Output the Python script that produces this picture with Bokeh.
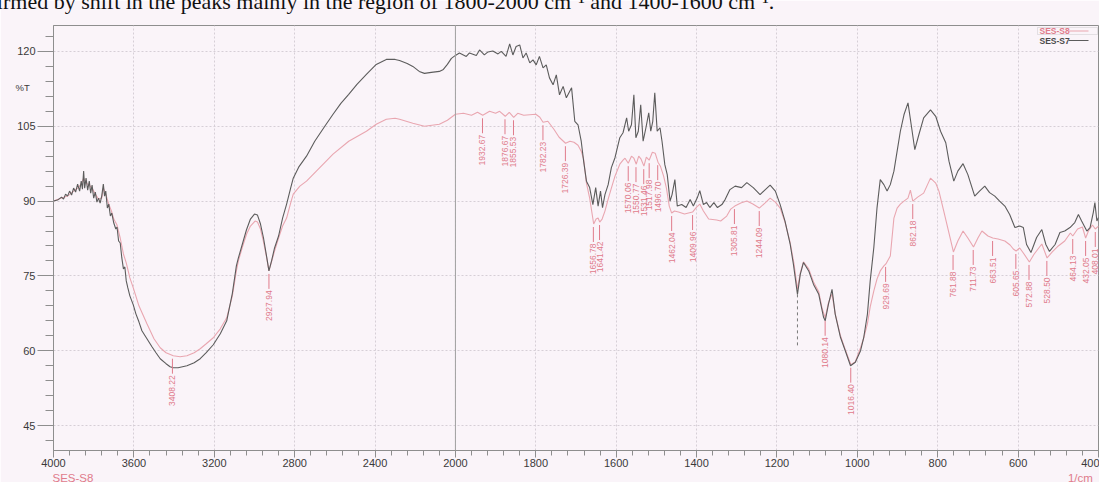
import math
from bokeh.plotting import figure
from bokeh.models import (Range1d, FixedTicker, Label, BoxAnnotation, Span,
                          ColumnDataSource)
from bokeh.core.properties import value
from bokeh.embed import file_html
from bokeh.resources import INLINE

# ---------------- spectra (wavenumber in 1/cm, transmittance in %T) ----------------
s7_wn = [4000, 3980, 3960, 3950, 3940, 3930, 3920, 3910, 3900, 3890, 3880, 3870, 3862, 3856,
         3850, 3845, 3838, 3830, 3822, 3815, 3808, 3800, 3792, 3784, 3776, 3768, 3760, 3752,
         3746, 3740, 3732, 3725, 3717, 3710, 3700, 3690, 3684, 3676, 3668, 3660, 3652, 3645,
         3638, 3630, 3620, 3603, 3590, 3575, 3560, 3535, 3510, 3490, 3469, 3440, 3420, 3404,
         3380, 3336, 3300, 3270, 3240, 3205, 3170, 3138, 3110, 3090, 3080, 3060, 3040, 3020,
         3000, 2985, 2970, 2955, 2940, 2928, 2915, 2900, 2880, 2860, 2840, 2820, 2807, 2780,
         2741, 2700, 2650, 2609, 2570, 2531, 2490, 2443, 2394, 2344, 2300, 2278, 2240, 2212,
         2180, 2154, 2120, 2080, 2060, 2040, 2020, 2000, 1990, 1973, 1965, 1948, 1940, 1928,
         1919, 1907, 1894, 1886, 1874, 1865, 1857, 1849, 1840, 1832, 1824, 1815, 1807, 1799,
         1791, 1782, 1774, 1766, 1757, 1749, 1741, 1732, 1724, 1711, 1703, 1695, 1687, 1681,
         1674, 1666, 1658, 1651, 1645, 1639, 1634, 1628, 1620, 1612, 1603, 1591, 1583, 1574,
         1569, 1562, 1556, 1551, 1545, 1539, 1533, 1526, 1519, 1514, 1509, 1504, 1498, 1491,
         1486, 1479, 1473, 1466, 1461, 1454, 1448, 1437, 1426, 1416, 1408, 1398, 1392, 1383,
         1375, 1367, 1357, 1348, 1337, 1329, 1317, 1304, 1288, 1275, 1259, 1242, 1229, 1217,
         1204, 1192, 1180, 1167, 1159, 1149, 1142, 1134, 1121, 1109, 1096, 1084, 1080, 1072,
         1063, 1055, 1042, 1030, 1017, 1005, 992, 984, 975, 968, 959, 951, 943, 934, 926, 918,
         909, 901, 893, 884, 874, 866, 857, 847, 835, 818, 805, 793, 780, 772, 760, 750, 737,
         725, 708, 696, 683, 671, 658, 646, 633, 621, 608, 596, 587, 579, 568, 554, 541, 531,
         522, 508, 496, 484, 471, 459, 450, 442, 429, 421, 413, 409, 404, 400]
s7_t = [90.0, 90.2, 90.8, 90.4, 91.4, 91.0, 92.0, 91.2, 92.6, 91.8, 93.4, 92.0, 94.0, 92.4,
        96.0, 92.6, 94.6, 92.2, 94.0, 91.6, 93.2, 90.6, 91.8, 89.8, 90.6, 89.6, 91.0, 93.4,
        91.0, 92.0, 88.6, 89.4, 87.0, 87.6, 85.6, 84.4, 84.8, 82.0, 81.6, 78.6, 76.4, 76.8,
        74.0, 72.6, 71.0, 69.2, 67.4, 65.8, 64.0, 62.4, 60.8, 59.6, 58.4, 57.4, 56.8, 56.6,
        56.6, 57.0, 57.6, 58.4, 59.6, 61.2, 63.4, 66.0, 71.5, 77.0, 78.6, 81.4, 84.2, 86.4,
        87.4, 87.2, 85.4, 82.6, 79.0, 76.0, 78.0, 80.6, 83.0, 86.6, 89.4, 92.6, 94.6, 96.8,
        99.0, 102.0, 105.0, 107.4, 109.6, 111.4, 113.4, 115.4, 117.4, 118.4, 118.4, 118.2, 117.6, 117.0,
        116.0, 115.6, 115.8, 116.0, 116.4, 117.4, 118.6, 119.2, 119.7, 119.0, 119.7, 119.2, 120.3, 119.3,
        119.9, 120.1, 119.5, 120.0, 119.0, 121.5, 119.3, 121.0, 121.3, 118.7, 119.7, 117.7, 118.3, 117.3,
        119.0, 116.7, 117.3, 114.7, 113.3, 115.3, 111.3, 113.0, 110.7, 112.7, 106.0, 105.3, 102.0, 98.0,
        94.0, 92.7, 89.3, 92.7, 89.0, 92.0, 88.7, 91.3, 93.3, 96.7, 98.7, 102.7, 103.7, 106.7,
        104.0, 105.3, 111.3, 102.7, 104.0, 109.3, 102.0, 104.7, 107.7, 104.0, 106.0, 111.7, 104.0, 104.7,
        102.0, 97.3, 95.3, 90.0, 91.3, 94.3, 89.0, 89.3, 88.7, 90.3, 89.0, 90.7, 92.1, 89.3,
        89.7, 88.7, 89.7, 88.7, 89.3, 90.3, 92.3, 93.0, 92.7, 93.7, 92.7, 91.3, 92.3, 93.2,
        92.0, 89.3, 86.0, 81.3, 77.3, 71.3, 75.3, 77.7, 76.0, 73.3, 71.3, 66.7, 66.0, 69.3,
        72.3, 67.3, 62.7, 60.0, 57.0, 57.7, 60.0, 62.7, 67.3, 74.0, 80.7, 88.7, 94.3, 93.3, 92.0, 93.3,
        96.0, 100.0, 104.0, 107.3, 109.7, 105.3, 100.3, 103.3, 106.7, 108.3, 107.0, 104.0, 101.7, 98.0, 94.0, 96.0, 97.5,
        95.3, 91.0, 92.0, 93.0, 91.7, 91.0, 90.0, 89.0, 87.3, 84.7, 85.0, 84.7, 81.3, 79.7, 82.7, 84.3, 81.3,
        79.9, 81.3, 83.7, 84.0, 84.7, 85.7, 87.3, 86.0, 84.0, 84.7, 87.7, 89.7, 86.0, 86.7]

s8_wn = [4000, 3960, 3930, 3900, 3880, 3862, 3850, 3838, 3822, 3808, 3792, 3776, 3760, 3752,
         3740, 3725, 3710, 3700, 3684, 3668, 3652, 3638, 3620, 3603, 3575, 3535, 3500, 3469,
         3440, 3404, 3370, 3336, 3300, 3270, 3240, 3205, 3170, 3138, 3110, 3090, 3080, 3060,
         3039, 3020, 2997, 2985, 2970, 2956, 2940, 2928, 2915, 2900, 2880, 2860, 2840, 2820,
         2807, 2774, 2741, 2692, 2609, 2531, 2443, 2394, 2344, 2300, 2278, 2212, 2154, 2080,
         2040, 2000, 1980, 1960, 1945, 1932, 1915, 1900, 1890, 1876, 1866, 1855, 1845, 1830,
         1800, 1790, 1782, 1770, 1755, 1742, 1726, 1715, 1705, 1695, 1687, 1681, 1674, 1666,
         1656, 1650, 1645, 1641, 1635, 1628, 1620, 1612, 1603, 1591, 1583, 1578, 1570, 1562,
         1556, 1550, 1544, 1538, 1531, 1525, 1518, 1510, 1503, 1496, 1490, 1482, 1475, 1468,
         1462, 1455, 1445, 1430, 1420, 1410, 1400, 1392, 1383, 1370, 1350, 1340, 1325, 1315,
         1305, 1290, 1275, 1260, 1244, 1230, 1217, 1204, 1192, 1180, 1167, 1158, 1149, 1142,
         1134, 1121, 1109, 1096, 1088, 1080, 1072, 1063, 1055, 1042, 1030, 1016, 1005, 992,
         984, 975, 968, 959, 951, 943, 934, 929, 918, 909, 901, 893, 884, 874, 868, 862,
         850, 835, 818, 805, 797, 785, 772, 761, 750, 737, 725, 711, 700, 690, 675, 663,
         650, 633, 620, 612, 605, 596, 587, 572, 560, 541, 528, 515, 500, 484, 470, 464,
         452, 440, 432, 425, 415, 408, 400]
s8_t = [90.0, 90.6, 91.0, 92.0, 92.6, 93.4, 94.6, 93.6, 93.2, 92.6, 91.4, 90.4, 90.6, 92.6,
        91.4, 89.4, 87.8, 86.4, 85.2, 82.6, 79.4, 77.6, 74.6, 72.6, 69.0, 65.4, 62.4, 60.6,
        59.6, 59.0, 58.8, 59.0, 59.6, 60.4, 61.4, 62.6, 64.4, 66.6, 71.0, 76.0, 78.0, 80.8,
        83.4, 85.0, 86.0, 85.8, 84.4, 82.0, 78.8, 76.0, 77.8, 80.0, 82.6, 85.0, 86.6, 89.6,
        91.4, 93.0, 94.0, 96.0, 99.4, 102.0, 104.0, 105.4, 106.4, 106.6, 106.4, 105.6, 105.0, 105.4,
        106.2, 107.4, 107.6, 107.2, 107.8, 107.2, 108.0, 107.6, 108.0, 107.0, 107.8, 106.8, 107.6, 107.2,
        107.4, 106.8, 105.8, 106.0, 104.4, 102.8, 101.6, 102.0, 101.8, 101.2, 100.0, 98.4, 93.6, 90.6,
        85.4, 86.4, 86.6, 85.8, 86.4, 88.0, 90.4, 92.6, 95.0, 97.4, 98.2, 98.6, 97.6, 99.0,
        98.6, 97.4, 99.0, 98.4, 97.0, 98.8, 98.2, 99.8, 99.6, 97.8, 97.0, 95.0, 92.6, 89.0,
        87.6, 88.0, 87.8, 87.4, 87.6, 87.8, 88.8, 89.4, 88.0, 86.4, 86.2, 86.0, 87.0, 88.4,
        89.0, 89.6, 90.0, 89.4, 88.6, 89.6, 90.6, 89.8, 88.6, 85.8, 81.6, 77.6, 72.4, 75.6,
        77.8, 76.4, 73.8, 71.8, 68.6, 66.6, 69.6, 71.4, 67.4, 63.0, 60.2, 57.2, 57.8, 60.6,
        62.6, 65.4, 68.8, 72.0, 74.4, 76.0, 77.0, 77.4, 79.0, 86.6, 88.6, 89.4, 90.0, 90.6, 92.2, 90.0,
        90.8, 91.6, 94.6, 93.6, 92.0, 88.0, 83.6, 79.8, 82.0, 84.0, 82.6, 80.8, 82.6, 84.0, 83.0, 82.6,
        82.4, 82.0, 81.2, 80.4, 80.0, 80.6, 79.6, 77.8, 79.4, 81.4, 78.6, 79.8, 81.0, 82.0, 83.6, 83.0,
        84.4, 84.8, 82.6, 84.0, 85.2, 84.4, 85.0]

# peak picks on SES-S8: wavenumber and %T where the marker starts
peak_wn = [3408.22, 2927.94, 1932.67, 1876.67, 1855.53, 1782.23, 1726.39, 1656.78, 1641.42,
           1570.06, 1550.77, 1531.46, 1517.98, 1496.70, 1462.04, 1409.96, 1305.81, 1244.09,
           1080.14, 1016.40, 929.69, 862.18, 761.88, 711.73, 663.51, 605.65, 572.88, 528.50,
           464.13, 432.05, 408.01]
peak_t = [59.0, 76.0, 107.2, 107.0, 106.8, 105.8, 101.6, 85.4, 85.8,
          97.6, 97.4, 97.0, 98.2, 97.8, 87.6, 87.8, 89.0, 88.6,
          66.6, 57.2, 77.4, 90.0, 79.8, 80.8, 82.6, 80.0, 77.8, 78.6,
          83.0, 82.6, 84.4]

# unlabelled SES-S7 pick (dashed drop line)
s7_pick_wn = [1149]
s7_pick_t = [71.3]

x_major = [4000, 3600, 3200, 2800, 2400, 2000, 1800, 1600, 1400, 1200, 1000, 800, 600, 400]
y_major = [45, 60, 75, 90, 105, 120]

caption = ("firmed by shift in the peaks mainly in the region of 1800-2000 cm\u207b\u00b9 "
           "and 1400-1600 cm\u207b\u00b9.")
sample_name = "SES-S8"
x_unit = "1/cm"


def xpos(w):
    """Spectrometer abscissa: 4000-2000 at half the scale of 2000-400."""
    return (4000 - w) / 2.0 if w >= 2000 else 1000.0 + (2000 - w)


BG = "#faf4f9"
RED = "#e9a6b0"
RED_TXT = "#e07b8b"
DARK = "#5c5c5c"
GRID = "#d6cfd6"
AXIS = "#8e8e8e"
INK = "#3a3a3a"

W, H = 1099, 482
L, R, T, B = 53, 1, 24, 32

p = figure(width=W, height=H, output_backend="svg", toolbar_location=None,
           x_range=Range1d(0, 2600), y_range=Range1d(40, 125.2),
           min_border_left=L, min_border_right=R, min_border_top=T, min_border_bottom=B,
           background_fill_color=BG, border_fill_color=BG)
p.outline_line_color = AXIS
p.outline_line_width = 1

# x axis
x_minor = [w for w in range(4000, 2000, -80)] + [w for w in range(2000, 399, -40)]
p.xaxis.ticker = FixedTicker(ticks=[xpos(w) for w in x_major],
                             minor_ticks=[xpos(w) for w in x_minor])
p.xaxis.major_label_overrides = {xpos(w): str(w) for w in x_major}
p.xaxis.axis_line_color = AXIS
p.xaxis.major_tick_line_color = AXIS
p.xaxis.minor_tick_line_color = AXIS
p.xaxis.major_tick_in = 0
p.xaxis.major_tick_out = 7
p.xaxis.minor_tick_in = 0
p.xaxis.minor_tick_out = 5
p.xaxis.major_label_standoff = 1
p.xaxis.major_label_text_font = "Liberation Sans"
p.xaxis.major_label_text_font_size = "11px"
p.xaxis.major_label_text_color = INK

# y axis
p.yaxis.ticker = FixedTicker(ticks=y_major, minor_ticks=list(range(42, 125, 3)))
p.yaxis.axis_line_color = AXIS
p.yaxis.major_tick_line_color = AXIS
p.yaxis.minor_tick_line_color = AXIS
p.yaxis.major_tick_in = 0
p.yaxis.major_tick_out = 16
p.yaxis.minor_tick_in = 0
p.yaxis.minor_tick_out = 8
p.yaxis.major_label_standoff = 2
p.yaxis.major_label_text_font = "Liberation Sans"
p.yaxis.major_label_text_font_size = "11px"
p.yaxis.major_label_text_color = INK

for g in (p.xgrid, p.ygrid):
    g.grid_line_color = GRID
    g.grid_line_dash = "2 2"
    g.grid_line_width = 1
p.xgrid.ticker = FixedTicker(ticks=[xpos(w) for w in x_major])
p.ygrid.ticker = FixedTicker(ticks=y_major)

# scale break at 2000 1/cm
p.add_layout(Span(location=xpos(2000), dimension="height", line_color="#a0a0a0", line_width=1))

# spectra
src8 = ColumnDataSource(dict(x=[xpos(w) for w in s8_wn], y=s8_t))
src7 = ColumnDataSource(dict(x=[xpos(w) for w in s7_wn], y=s7_t))
p.line("x", "y", source=src8, line_color=RED, line_width=1.1)
p.line("x", "y", source=src7, line_color=DARK, line_width=1.1)

# peak markers and labels
px = [xpos(w) for w in peak_wn]
p.segment(x0=px, y0=[t - 0.6 for t in peak_t], x1=px, y1=[t - 3.6 for t in peak_t],
          line_color=RED_TXT, line_width=1)
p.text(x=px, y=[t - 3.9 for t in peak_t], text=["%.2f" % w for w in peak_wn],
       angle=math.pi / 2, text_align="right", text_baseline="middle",
       text_font=value("Liberation Sans"), text_font_size="8.5px", text_color=RED_TXT)

qx = [xpos(w) for w in s7_pick_wn]
p.segment(x0=qx, y0=s7_pick_t, x1=qx, y1=[t - 10.8 for t in s7_pick_t],
          line_color="#7a7a7a", line_width=1, line_dash="3 3")

# texts outside the frame live in the side panels so they are not clipped
p.add_layout(Label(x=-64, y=24, x_units="screen", y_units="screen", text=caption,
                   text_font="Liberation Serif", text_font_size="22px", text_color="#111111",
                   text_baseline="alphabetic"), "above")
p.add_layout(Label(x=15, y=363, x_units="screen", y_units="screen", text="%T",
                   text_font="Liberation Sans", text_font_size="9.5px",
                   text_color=INK, text_baseline="middle"), "left")

# sample name at the left and unit at the right of the strip under the abscissa
# (one label, padded with no-break spaces, so the strip stays a single line)
foot_text = sample_name + "\u00a0" * 305 + x_unit
p.add_layout(Label(x=-1, y=10, x_units="screen", y_units="screen", text=foot_text,
                   text_font="Liberation Sans", text_font_size="11.5px",
                   text_color=RED_TXT, text_baseline="top"), "below")


def scr(cx, cy):
    """canvas pixel (from top-left) -> frame-relative screen units"""
    return cx - L, (H - B) - cy


def add_label(text, cx, cy, **kw):
    sx, sy = scr(cx, cy)
    p.add_layout(Label(x=sx, y=sy, x_units="screen", y_units="screen", text=text, **kw))


# legend
bx0, by0 = scr(1037, 34)
bx1, by1 = scr(1097, 27)
p.add_layout(BoxAnnotation(left=bx0, right=bx1, bottom=by0, top=by1,
                           left_units="screen", right_units="screen",
                           bottom_units="screen", top_units="screen",
                           fill_alpha=0, line_color="#b0b0b0", line_width=1))
add_label("SES-S8", 1039, 30.5, text_font="Liberation Sans", text_font_size="8.5px",
          text_font_style="bold", text_color=RED_TXT, text_baseline="middle")
add_label("SES-S7", 1039, 40, text_font="Liberation Sans", text_font_size="8.5px",
          text_font_style="bold", text_color="#4a4a4a", text_baseline="middle")
for cy, col in ((30.5, RED), (40, DARK)):
    lx0, ly = scr(1068, cy)
    lx1, _ = scr(1088, cy)
    p.add_layout(BoxAnnotation(left=lx0, right=lx1, bottom=ly - 0.5, top=ly + 0.5,
                               left_units="screen", right_units="screen",
                               bottom_units="screen", top_units="screen",
                               fill_color=col, fill_alpha=1, line_alpha=0))

open("out.html", "w").write(file_html(p, INLINE))
